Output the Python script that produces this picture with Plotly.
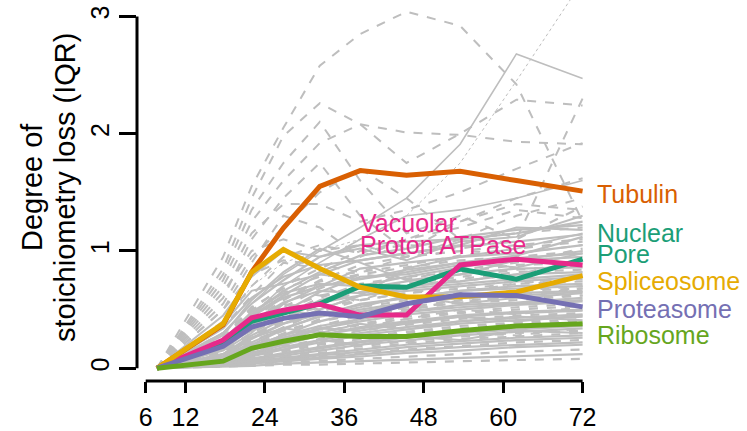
import plotly.graph_objects as go

# time points (x)
hours = [7.7, 17.7, 22.0, 26.8, 32.3, 38.4, 45.4, 53.5, 62.0, 72.0]
x_ticks = [6, 12, 24, 36, 48, 60, 72]
y_ticks = [0, 1, 2, 3]

# highlighted complexes
tubulin = [0, 0.37, 0.82, 1.195, 1.55, 1.685, 1.645, 1.68, 1.60, 1.51]
nuclear_pore = [0, 0.21, 0.40, 0.47, 0.55, 0.70, 0.69, 0.845, 0.76, 0.93]
vacuolar = [0, 0.24, 0.43, 0.495, 0.545, 0.453, 0.453, 0.88, 0.93, 0.88]
spliceosome = [0, 0.38, 0.817, 1.013, 0.85, 0.69, 0.607, 0.61, 0.65, 0.79]
proteasome = [0, 0.187, 0.35, 0.425, 0.47, 0.44, 0.55, 0.627, 0.62, 0.523]
ribosome = [0, 0.06, 0.17, 0.23, 0.285, 0.27, 0.27, 0.32, 0.36, 0.38]

# background complexes (grey), high dashed ones
grey_high_dashed = [
    [0, 0.95, 1.55, 2.05, 2.58, 2.85, 3.04, 2.92, 2.42, 1.25],
    [0, 0.85, 1.45, 1.98, 2.26, 2.08, 2.01, 1.99, 1.93, 1.91],
    [0, 0.75, 1.25, 1.60, 1.92, 2.08, 1.75, 2.00, 2.29, 2.24],
    [0, 0.80, 1.35, 1.75, 2.10, 1.60, 1.15, 1.30, 1.10, 2.30],
    [0, 0.60, 1.10, 1.45, 1.75, 1.30, 1.00, 1.25, 1.45, 1.62],
    [0, 0.70, 1.15, 1.40, 1.40, 1.25, 1.35, 1.50, 1.70, 1.92],
    [0, 0.55, 0.95, 1.20, 1.50, 1.70, 1.45, 1.10, 1.30, 1.45],
    [0, 0.50, 0.90, 1.30, 1.20, 0.95, 1.10, 1.25, 1.40, 1.35],
    [0, 0.65, 1.00, 1.10, 1.00, 1.05, 0.95, 1.10, 1.15, 1.20],
]
grey_high_solid = [
    [0, 0.30, 0.55, 0.80, 1.00, 1.20, 1.45, 1.91, 2.68, 2.47],
    [0, 0.25, 0.45, 0.70, 0.90, 1.10, 1.30, 1.35, 1.45, 1.60],
]
grey_dotted = [0, 0.35, 0.70, 0.90, 1.00, 1.10, 1.30, 1.75, 2.45, 3.30]

grey_band = [
    [0, 0.30, 0.55, 0.75, 0.95, 1.05, 1.08, 1.10, 1.15, 1.25],
    [0, 0.25, 0.50, 0.70, 0.85, 1.00, 1.05, 1.02, 1.10, 1.38],
    [0, 0.20, 0.45, 0.62, 0.80, 0.92, 0.98, 1.05, 1.20, 1.18],
    [0, 0.22, 0.40, 0.58, 0.75, 0.88, 0.95, 1.00, 1.05, 1.10],
    [0, 0.18, 0.38, 0.55, 0.70, 0.85, 0.90, 0.95, 0.98, 1.05],
    [0, 0.15, 0.35, 0.52, 0.68, 0.80, 0.86, 0.92, 0.95, 1.00],
    [0, 0.20, 0.32, 0.48, 0.65, 0.78, 0.80, 0.88, 0.92, 0.95],
    [0, 0.16, 0.30, 0.45, 0.60, 0.72, 0.78, 0.82, 0.88, 0.90],
    [0, 0.12, 0.28, 0.42, 0.58, 0.68, 0.74, 0.80, 0.85, 0.86],
    [0, 0.14, 0.27, 0.40, 0.55, 0.65, 0.70, 0.76, 0.82, 0.84],
    [0, 0.10, 0.25, 0.38, 0.50, 0.62, 0.68, 0.72, 0.76, 0.80],
    [0, 0.12, 0.22, 0.35, 0.48, 0.58, 0.64, 0.70, 0.74, 0.76],
    [0, 0.09, 0.20, 0.33, 0.45, 0.55, 0.60, 0.66, 0.70, 0.72],
    [0, 0.10, 0.19, 0.30, 0.42, 0.52, 0.58, 0.62, 0.66, 0.68],
    [0, 0.08, 0.18, 0.28, 0.40, 0.48, 0.55, 0.60, 0.62, 0.65],
    [0, 0.07, 0.16, 0.26, 0.36, 0.45, 0.50, 0.56, 0.58, 0.62],
    [0, 0.08, 0.15, 0.24, 0.33, 0.42, 0.48, 0.52, 0.55, 0.58],
    [0, 0.06, 0.14, 0.22, 0.30, 0.38, 0.44, 0.48, 0.52, 0.55],
    [0, 0.05, 0.12, 0.20, 0.28, 0.35, 0.40, 0.45, 0.48, 0.50],
    [0, 0.06, 0.11, 0.18, 0.25, 0.32, 0.37, 0.42, 0.45, 0.47],
    [0, 0.04, 0.10, 0.16, 0.22, 0.28, 0.33, 0.38, 0.41, 0.44],
    [0, 0.05, 0.09, 0.14, 0.20, 0.25, 0.30, 0.34, 0.38, 0.40],
    [0, 0.04, 0.08, 0.12, 0.17, 0.22, 0.26, 0.30, 0.33, 0.36],
    [0, 0.03, 0.07, 0.10, 0.15, 0.19, 0.23, 0.27, 0.30, 0.32],
    [0, 0.03, 0.06, 0.09, 0.12, 0.16, 0.20, 0.23, 0.26, 0.28],
    [0, 0.02, 0.05, 0.08, 0.10, 0.13, 0.16, 0.19, 0.22, 0.24],
    [0, 0.02, 0.04, 0.06, 0.08, 0.10, 0.13, 0.15, 0.18, 0.20],
    [0, 0.02, 0.03, 0.05, 0.06, 0.08, 0.10, 0.12, 0.14, 0.16],
    [0, 0.01, 0.02, 0.04, 0.05, 0.06, 0.07, 0.09, 0.10, 0.12],
    [0, 0.01, 0.02, 0.03, 0.03, 0.04, 0.05, 0.06, 0.07, 0.08],
]
grey_band2 = [
    [0, 0.26, 0.52, 0.68, 0.78, 0.82, 0.88, 0.96, 1.02, 1.08],
    [0, 0.22, 0.44, 0.60, 0.70, 0.76, 0.82, 0.90, 0.96, 1.12],
    [0, 0.24, 0.48, 0.64, 0.72, 0.70, 0.78, 0.86, 0.94, 0.98],
    [0, 0.18, 0.36, 0.50, 0.62, 0.68, 0.72, 0.78, 0.84, 0.88],
    [0, 0.20, 0.40, 0.56, 0.66, 0.64, 0.70, 0.74, 0.80, 0.82],
    [0, 0.16, 0.34, 0.46, 0.56, 0.62, 0.66, 0.70, 0.74, 0.78],
    [0, 0.14, 0.30, 0.44, 0.52, 0.58, 0.64, 0.68, 0.72, 0.74],
    [0, 0.12, 0.26, 0.38, 0.46, 0.54, 0.60, 0.66, 0.68, 0.70],
    [0, 0.10, 0.22, 0.34, 0.44, 0.50, 0.56, 0.62, 0.64, 0.66],
    [0, 0.11, 0.24, 0.32, 0.40, 0.46, 0.52, 0.58, 0.60, 0.62],
    [0, 0.09, 0.18, 0.28, 0.36, 0.42, 0.48, 0.54, 0.56, 0.60],
    [0, 0.08, 0.17, 0.26, 0.34, 0.40, 0.46, 0.50, 0.54, 0.57],
    [0, 0.07, 0.15, 0.23, 0.31, 0.37, 0.42, 0.47, 0.50, 0.53],
    [0, 0.06, 0.13, 0.21, 0.28, 0.34, 0.39, 0.44, 0.47, 0.49],
    [0, 0.05, 0.11, 0.18, 0.24, 0.30, 0.35, 0.40, 0.43, 0.46],
    [0, 0.04, 0.10, 0.15, 0.21, 0.27, 0.31, 0.36, 0.39, 0.42],
    [0, 0.04, 0.08, 0.13, 0.18, 0.23, 0.28, 0.32, 0.35, 0.38],
    [0, 0.03, 0.07, 0.11, 0.15, 0.20, 0.24, 0.28, 0.31, 0.34],
    [0, 0.03, 0.06, 0.10, 0.13, 0.17, 0.21, 0.25, 0.27, 0.30],
    [0, 0.02, 0.05, 0.08, 0.11, 0.14, 0.18, 0.21, 0.24, 0.26],
    [0, 0.02, 0.04, 0.07, 0.09, 0.12, 0.15, 0.18, 0.20, 0.22],
    [0, 0.30, 0.50, 0.62, 0.74, 0.80, 0.76, 0.84, 0.90, 1.02],
    [0, 0.34, 0.60, 0.78, 0.88, 0.92, 0.98, 1.04, 1.08, 1.14],
    [0, 0.20, 0.46, 0.66, 0.82, 0.96, 1.02, 1.12, 1.18, 1.22],
    [0, 0.15, 0.28, 0.40, 0.48, 0.45, 0.52, 0.56, 0.62, 0.68],
    [0, 0.10, 0.20, 0.26, 0.34, 0.32, 0.38, 0.44, 0.40, 0.45],
]
grey_cross = [
    [0, 0.35, 0.62, 0.90, 0.85, 0.70, 0.60, 0.65, 0.72, 0.78],
    [0, 0.28, 0.58, 0.82, 1.02, 0.90, 0.75, 0.80, 0.92, 1.00],
    [0, 0.40, 0.70, 0.95, 1.05, 0.98, 1.10, 1.20, 1.35, 1.28],
    [0, 0.15, 0.30, 0.55, 0.50, 0.62, 0.85, 0.95, 1.02, 1.15],
    [0, 0.18, 0.42, 0.60, 0.72, 0.55, 0.50, 0.58, 0.66, 0.70],
    [0, 0.22, 0.38, 0.50, 0.45, 0.52, 0.62, 0.55, 0.60, 0.64],
    [0, 0.10, 0.20, 0.32, 0.40, 0.35, 0.42, 0.50, 0.46, 0.52],
    [0, 0.12, 0.26, 0.34, 0.30, 0.38, 0.33, 0.40, 0.44, 0.41],
    [0, 0.30, 0.48, 0.66, 0.62, 0.58, 0.70, 0.74, 0.80, 0.92],
    [0, 0.45, 0.78, 1.00, 0.95, 1.02, 0.92, 1.08, 1.12, 1.30],
    [0, 0.08, 0.14, 0.20, 0.18, 0.25, 0.22, 0.30, 0.28, 0.34],
    [0, 0.05, 0.12, 0.16, 0.24, 0.20, 0.27, 0.24, 0.32, 0.30],
    [0, 0.50, 0.80, 0.92, 0.88, 0.82, 0.95, 1.00, 0.98, 1.05],
    [0, 0.38, 0.66, 0.72, 0.80, 0.76, 0.84, 0.90, 0.86, 0.98],
]

GREY = "#BEBEBE"
FONT = "Liberation Sans, Arial, Helvetica, sans-serif"

fig = go.Figure()

def grey_line(vals, dash, width):
    fig.add_trace(go.Scatter(x=hours, y=vals, mode="lines", hoverinfo="skip",
                             line=dict(color=GREY, width=width, dash=dash),
                             showlegend=False))

for i, v in enumerate(grey_band):
    grey_line(v, "dash" if i % 2 else "solid", 2.2)
for i, v in enumerate(grey_band2):
    grey_line(v, "solid" if i % 3 else "dash", 2.2)
for i, v in enumerate(grey_cross):
    grey_line(v, "solid" if i % 2 else "dash", 2)
for v in grey_high_dashed:
    grey_line(v, "dash", 2)
for v in grey_high_solid:
    grey_line(v, "solid", 1.6)
grey_line(grey_dotted, "dot", 1)

complexes = [
    ("Tubulin", tubulin, "#D95F02"),
    ("Nuclear Pore", nuclear_pore, "#1B9E77"),
    ("Vacuolar Proton ATPase", vacuolar, "#E7298A"),
    ("Spliceosome", spliceosome, "#E6AB02"),
    ("Proteasome", proteasome, "#7570B3"),
    ("Ribosome", ribosome, "#66A61E"),
]
for name, vals, col in complexes:
    fig.add_trace(go.Scatter(x=hours, y=vals, mode="lines", name=name,
                             line=dict(color=col, width=5), showlegend=False))

# labels
labels = [
    ("Tubulin", 1.489, "#D95F02"),
    ("Nuclear", 1.153, "#1B9E77"),
    ("Pore", 0.971, "#1B9E77"),
    ("Spliceosome", 0.747, "#E6AB02"),
    ("Proteasome", 0.504, "#7570B3"),
    ("Ribosome", 0.285, "#66A61E"),
]
for txt, yv, col in labels:
    fig.add_annotation(text=txt, xref="paper", x=1.011, yref="y", y=yv,
                       xanchor="left", yanchor="middle", showarrow=False,
                       font=dict(size=25, color=col, family=FONT))
for txt, yv in [("Vacuolar", 1.237), ("Proton ATPase", 1.055)]:
    fig.add_annotation(text=txt, xref="x", x=38.1, yref="y", y=yv,
                       xanchor="left", yanchor="middle", showarrow=False,
                       font=dict(size=25, color="#E7298A", family=FONT))

# y title (two lines)
for txt, xp in [("Degree of", -0.232), ("stoichiometry loss (IQR)", -0.159)]:
    fig.add_annotation(text=txt, xref="paper", x=xp, yref="paper", y=0.509,
                       xanchor="center", yanchor="middle", textangle=-90,
                       showarrow=False, font=dict(size=29, color="black", family=FONT))

# axis lines spanning tick range only
fig.add_shape(type="line", xref="x", yref="paper", x0=x_ticks[0], x1=x_ticks[-1],
              y0=0, y1=0, line=dict(color="black", width=3))
fig.add_shape(type="line", xref="paper", yref="y", x0=0, x1=0,
              y0=y_ticks[0], y1=y_ticks[-1], line=dict(color="black", width=3))

fig.update_layout(
    width=747, height=431,
    margin=dict(l=137, r=157, t=0, b=44),
    plot_bgcolor="white", paper_bgcolor="white",
    font=dict(family=FONT, color="black"),
    xaxis=dict(range=[4.686, 73.12], tickvals=x_ticks, ticks="outside",
               ticklen=11, tickwidth=3, tickcolor="black", showgrid=False,
               zeroline=False, showline=False, tickfont=dict(size=25),
               ticklabelstandoff=3),
    yaxis=dict(range=[-0.109, 3.14], tickvals=y_ticks, ticks="outside",
               ticklen=17, tickwidth=3, tickcolor="black", showgrid=False,
               zeroline=False, showline=False, tickangle=-90,
               tickfont=dict(size=25)),
)

css_js = (
    "var s=document.createElement('style');"
    "s.textContent='html,body{margin:0;padding:0;overflow:hidden;height:431px;}"
    "body>div{height:431px;line-height:0;}';"
    "document.head.appendChild(s);"
)
fig.write_html("out.html", config={"displayModeBar": False}, post_script=css_js)
